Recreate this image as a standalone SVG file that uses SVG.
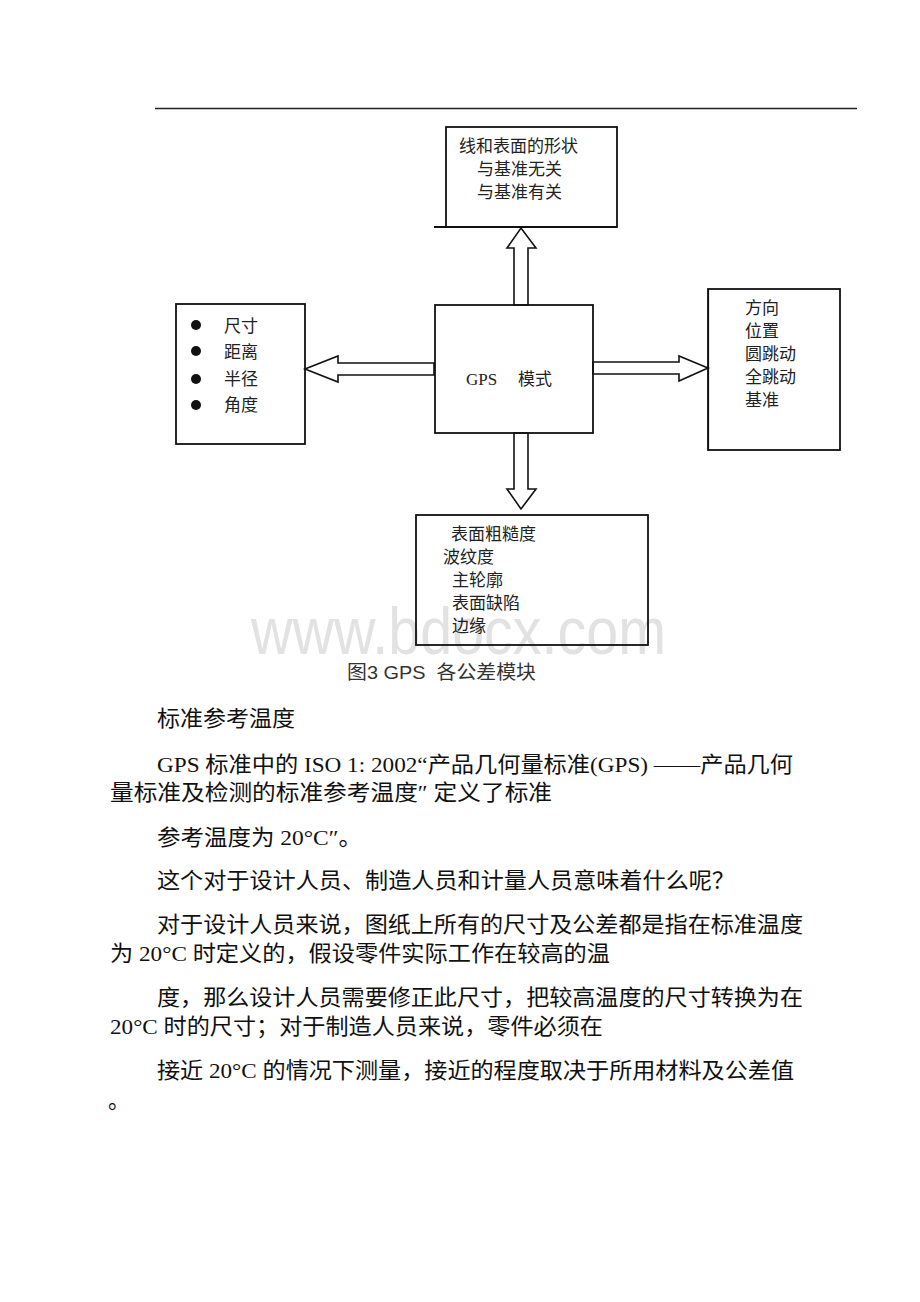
<svg xmlns="http://www.w3.org/2000/svg" width="920" height="1302" viewBox="0 0 920 1302">
<style>
.box{fill:none;stroke:#111;stroke-width:1.8}
.arr{fill:#fff;stroke:#111;stroke-width:1.6;stroke-linejoin:miter}
.nt{font-family:"Liberation Serif","Noto Sans CJK SC",serif;font-size:17px;fill:#222}
.body{font-family:"Liberation Serif","Noto Sans CJK SC",serif;font-size:22px;fill:#111}
.cap{font-family:"Liberation Sans","Noto Sans CJK SC",sans-serif;font-size:19px;fill:#333}
.wm{font-family:"Liberation Sans",Arial,sans-serif;font-size:66px;fill:#e2e2e2}
</style>
<rect width="920" height="1302" fill="#fff"/>
<line x1="155" y1="108.5" x2="857" y2="108.5" stroke="#222" stroke-width="1.3"/>
<text class="wm" x="251" y="654" textLength="415" lengthAdjust="spacingAndGlyphs">www.bdocx.com</text>
<g id="connectors">
<polygon class="arr" points="514,305 514,248 507,248 521,228 536,248 528,248 528,305"/>
<polygon class="arr" points="434,363 338,363 338,356 305,369 338,382 338,375 434,375"/>
<polygon class="arr" points="593,362 679,362 679,356 708,368 679,381 679,374 593,374"/>
<polygon class="arr" points="514,433 514,489 507,489 521,509 536,489 528,489 528,433"/>
</g>
<g id="node-top">
<rect class="box" x="446" y="127" width="171" height="100"/>
<line x1="434" y1="227" x2="617" y2="227" stroke="#111" stroke-width="1.8"/>
<text class="nt" x="459" y="152">线和表面的形状</text>
<text class="nt" x="477" y="175">与基准无关</text>
<text class="nt" x="477" y="198">与基准有关</text>
</g>
<g id="node-center">
<rect class="box" x="435" y="305" width="158" height="128"/>
<text class="nt" x="466" y="385">GPS<tspan x="518">模式</tspan></text>
</g>
<g id="node-left">
<rect class="box" x="176" y="304" width="129" height="140"/>
<circle cx="196" cy="325" r="5" fill="#111"/>
<circle cx="196" cy="351" r="5" fill="#111"/>
<circle cx="196" cy="379" r="5" fill="#111"/>
<circle cx="196" cy="405" r="5" fill="#111"/>
<text class="nt" x="224" y="332">尺寸</text>
<text class="nt" x="224" y="358">距离</text>
<text class="nt" x="224" y="385">半径</text>
<text class="nt" x="224" y="411">角度</text>
</g>
<g id="node-right">
<rect class="box" x="708" y="289" width="132" height="161"/>
<line x1="708.5" y1="289" x2="708.5" y2="450" stroke="#111" stroke-width="1.2"/>
<text class="nt" x="745" y="314">方向</text>
<text class="nt" x="745" y="337">位置</text>
<text class="nt" x="745" y="360">圆跳动</text>
<text class="nt" x="745" y="383">全跳动</text>
<text class="nt" x="745" y="406">基准</text>
</g>
<g id="node-bottom">
<rect class="box" x="416" y="515" width="232" height="130"/>
<text class="nt" x="451" y="540">表面粗糙度</text>
<text class="nt" x="443" y="563">波纹度</text>
<text class="nt" x="452" y="586">主轮廓</text>
<text class="nt" x="452" y="609">表面缺陷</text>
<text class="nt" x="452" y="632">边缘</text>
</g>
<text class="cap" x="347" y="679" textLength="189" lengthAdjust="spacingAndGlyphs">图3 GPS&#160; 各公差模块</text>
<g id="body">
<text class="body" x="157" y="726" textLength="138" lengthAdjust="spacingAndGlyphs">标准参考温度</text>
<text class="body" x="157" y="772" textLength="636" lengthAdjust="spacingAndGlyphs">GPS 标准中的 ISO 1: 2002“产品几何量标准(GPS) ——产品几何</text>
<text class="body" x="110" y="800" textLength="442" lengthAdjust="spacingAndGlyphs">量标准及检测的标准参考温度″ 定义了标准</text>
<text class="body" x="157" y="845" textLength="205" lengthAdjust="spacingAndGlyphs">参考温度为 20°C″。</text>
<text class="body" x="157" y="888" textLength="578" lengthAdjust="spacingAndGlyphs">这个对于设计人员、制造人员和计量人员意味着什么呢？</text>
<text class="body" x="157" y="932" textLength="646" lengthAdjust="spacingAndGlyphs">对于设计人员来说，图纸上所有的尺寸及公差都是指在标准温度</text>
<text class="body" x="110" y="961" textLength="500" lengthAdjust="spacingAndGlyphs">为 20°C 时定义的，假设零件实际工作在较高的温</text>
<text class="body" x="157" y="1005" textLength="646" lengthAdjust="spacingAndGlyphs">度，那么设计人员需要修正此尺寸，把较高温度的尺寸转换为在</text>
<text class="body" x="110" y="1034" textLength="493" lengthAdjust="spacingAndGlyphs">20°C 时的尺寸；对于制造人员来说，零件必须在</text>
<text class="body" x="157" y="1078" textLength="637" lengthAdjust="spacingAndGlyphs">接近 20°C 的情况下测量，接近的程度取决于所用材料及公差值</text>
<text class="body" x="108" y="1108">。</text>
</g>
</svg>
